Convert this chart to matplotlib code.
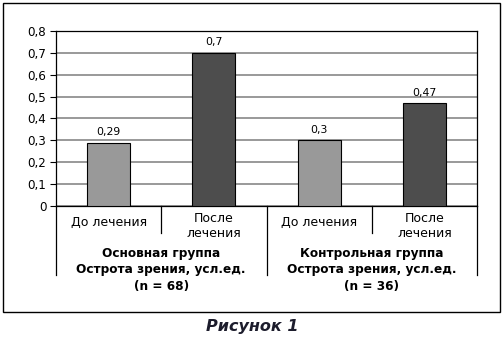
import matplotlib.pyplot as plt
from matplotlib import transforms

plt.rcParams['font.family'] = ['DejaVu Sans']

# данные
categories = ["До лечения", "После\nлечения", "До лечения", "После\nлечения"]
values = [0.29, 0.7, 0.3, 0.47]
value_labels = ["0,29", "0,7", "0,3", "0,47"]
groups = ["Основная группа\nОстрота зрения, усл.ед.\n(n = 68)",
          "Контрольная группа\nОстрота зрения, усл.ед.\n(n = 36)"]
yticks = [0, 0.1, 0.2, 0.3, 0.4, 0.5, 0.6, 0.7, 0.8]
ytick_labels = ["0", "0,1", "0,2", "0,3", "0,4", "0,5", "0,6", "0,7", "0,8"]
colors = ["#999999", "#4d4d4d", "#999999", "#4d4d4d"]

W, H = 504, 340
fig = plt.figure(figsize=(W / 100, H / 100), dpi=100)
ax = fig.add_axes([56 / W, 1 - 206 / H, (477 - 56) / W, (206 - 31) / H])

x = list(range(len(values)))
ax.bar(x, values, width=0.41, color=colors, edgecolor="black", linewidth=0.8, zorder=3)
for xi, v, lab in zip(x, values, value_labels):
    ax.text(xi, v + 0.025, lab, ha="center", va="bottom", fontsize=7.8)

ax.set_xlim(-0.5, 3.5)
ax.set_ylim(0, 0.8)
ax.set_yticks(yticks)
ax.set_yticklabels(ytick_labels, fontsize=8.6)
ax.yaxis.grid(True, color="#999999", linewidth=1.4, zorder=0)
ax.set_xticks([])
ax.tick_params(axis="y", length=4, width=0.8, pad=3)
for s in ax.spines.values():
    s.set_color("black")
    s.set_linewidth(0.9)

# подписи категорий и разделители
trans = transforms.blended_transform_factory(ax.transData, ax.transAxes)
px = 1 / (206 - 31)
for b, depth in zip([-0.5, 0.5, 1.5, 2.5, 3.5], [69, 27, 69, 27, 69]):
    ax.plot([b, b], [0, -depth * px], transform=trans, color="black",
            linewidth=0.9, clip_on=False)
for xi, cat in zip(x, categories):
    if "\n" in cat:
        ax.text(xi, -20 * px, cat, transform=trans, ha="center", va="center",
                fontsize=9, linespacing=1.25)
    else:
        ax.text(xi, -16 * px, cat, transform=trans, ha="center", va="center",
                fontsize=9)
for gi, g in enumerate(groups):
    ax.text(2 * gi + 0.5, -64 * px, g, transform=trans, ha="center", va="center",
            fontsize=8.7, fontweight="bold", linespacing=1.38)

# рамка и подпись рисунка
fig.patches.append(plt.Rectangle((3 / W, 1 - 312 / H), 497 / W, 309 / H,
                                 transform=fig.transFigure, fill=False,
                                 edgecolor="black", linewidth=1))
fig.text(252 / W, 1 - 327 / H, "Рисунок 1", ha="center", va="center",
         fontsize=11.5, fontweight="bold", fontstyle="italic", color="#1c1c2c")

fig.savefig("out.png", dpi=100)
